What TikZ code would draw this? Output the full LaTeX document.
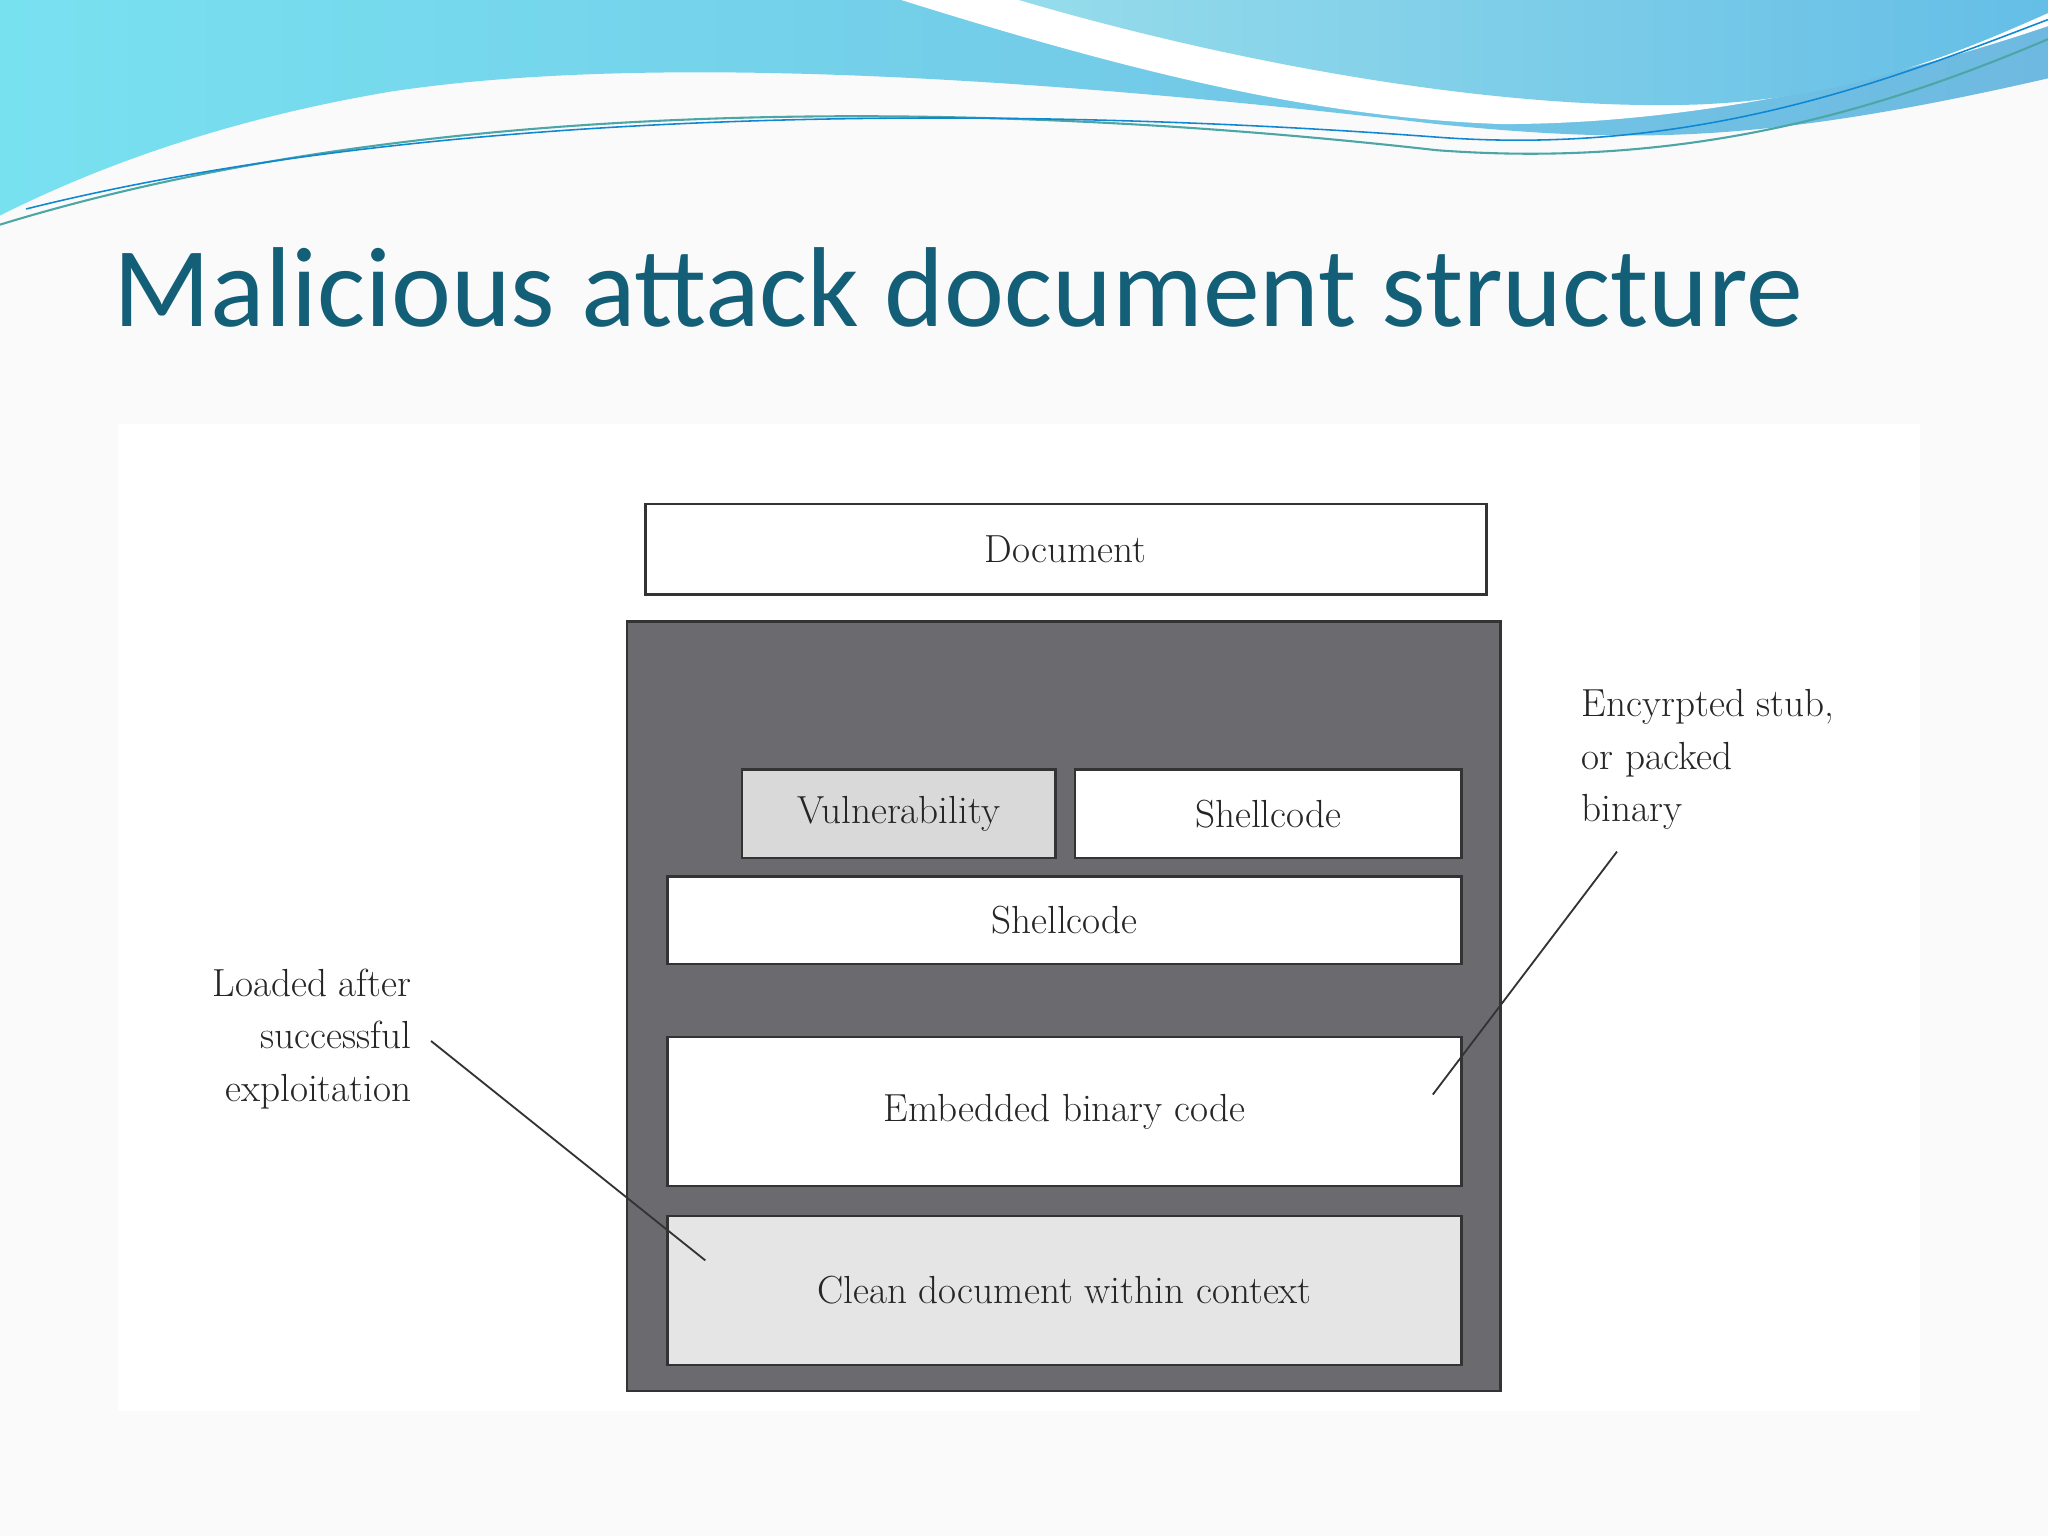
\documentclass[tikz,border=0pt]{standalone}
\usepackage{fontspec}
\newfontfamily\titlefont{Carlito}
\begin{document}
\begin{tikzpicture}[x=0.5pt,y=-0.5pt,
  box/.style={draw=black!80,line width=1pt,fill=white,inner sep=0pt},
  lbl/.style={font=\fontsize{15}{18}\selectfont,text=black!85}]
\useasboundingbox (0,0) rectangle (1568,1176);
\fill[gray!4] (0,0) rectangle (1568,1176);
% wave
\shade[left color={rgb,255:red,120;green,225;blue,240}, right color={rgb,255:red,110;green,185;blue,225}] (0,0) -- (1568,0) -- (1568,60) .. controls (1350,110) and (1250,110) .. (1100,95) .. controls (800,60) and (500,40) .. (300,70) .. controls (150,95) and (50,140) .. (0,165) -- cycle;
\fill[white] (690,0) .. controls (850,50) and (1000,90) .. (1150,95) .. controls (1300,95) and (1450,60) .. (1568,20) -- (1568,0) -- cycle;
\shade[left color={rgb,255:red,150;green,220;blue,235}, right color={rgb,255:red,100;green,190;blue,230}] (780,0) .. controls (950,50) and (1150,85) .. (1300,80) .. controls (1420,75) and (1500,40) .. (1568,10) -- (1568,0) -- cycle;
\draw[teal!70,line width=0.8pt] (0,172) .. controls (300,80) and (700,70) .. (1100,115) .. controls (1300,130) and (1450,80) .. (1568,30);
\draw[cyan!70!blue,line width=0.6pt] (20,160) .. controls (300,90) and (700,75) .. (1100,105) .. controls (1300,120) and (1450,60) .. (1568,15);
\node[anchor=base west,font=\titlefont\fontsize{43.5}{50}\selectfont,text={rgb,255:red,20;green,95;blue,120}] (title) at (80,250) {Malicious attack document structure};
% diagram area
\fill[white] (90,325) rectangle (1470,1080);
\node[box,minimum width=322pt,minimum height=34.5pt,anchor=north west,lbl] (doc) at (493,385) {Document};
\draw[black!80,line width=1pt,fill={rgb,255:red,107;green,106;blue,110}] (480,476) rectangle (1149,1065);
\node[box,fill=black!15,minimum width=120pt,minimum height=34pt,anchor=north west,lbl] (vul) at (567,588) {Vulnerability};
\node[box,minimum width=148pt,minimum height=34pt,anchor=north west,lbl] (sh1) at (822,588) {Shellcode};
\node[box,minimum width=304pt,minimum height=33.5pt,anchor=north west,lbl] (sh2) at (510,670) {Shellcode};
\node[box,minimum width=304pt,minimum height=57pt,anchor=north west,lbl] (emb) at (510,793) {Embedded binary code};
\node[box,fill=black!10,minimum width=304pt,minimum height=57pt,anchor=north west,lbl] (cln) at (510,930) {Clean document within context};
\node[lbl,align=right,anchor=north east,font=\fontsize{15}{20}\selectfont] (lt) at (322,735) {Loaded after\\successful\\exploitation};
\node[lbl,align=left,anchor=north west,font=\fontsize{15}{20}\selectfont] (rt) at (1204,521) {Encyrpted stub,\\or packed\\binary};
\coordinate (a1) at (330,797); \coordinate (a2) at (540,965);
\coordinate (b1) at (1238,652); \coordinate (b2) at (1097,838);
\draw[black!80,line width=0.7pt] (a1) -- (a2);
\draw[black!80,line width=0.7pt] (b1) -- (b2);
\end{tikzpicture}
\end{document}
